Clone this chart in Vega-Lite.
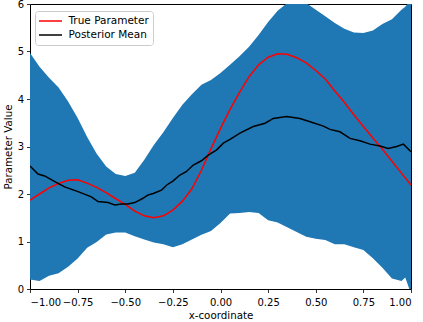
{
  "$schema": "https://vega.github.io/schema/vega-lite/v6.json",
  "width": 381,
  "height": 285,
  "autosize": {"type": "none"},
  "padding": {"left": 30, "top": 4, "right": 12, "bottom": 33},
  "background": "white",
  "config": {
    "view": {"stroke": "#000000", "strokeWidth": 1},
    "font": "DejaVu Sans",
    "axis": {
      "grid": false,
      "domain": false,
      "labelFont": "DejaVu Sans",
      "labelFontSize": 10,
      "labelColor": "#000000",
      "tickColor": "#000000",
      "tickSize": 3.5,
      "tickWidth": 0.8,
      "labelPadding": 3,
      "titleFont": "DejaVu Sans",
      "titleFontSize": 10.3,
      "titleFontWeight": "normal",
      "titleColor": "#000000"
    },
    "legend": {
      "labelFont": "DejaVu Sans",
      "labelFontSize": 10.5,
      "labelColor": "#000000"
    }
  },
  "datasets": {
    "band": [
      {"x": -1.00, "lower": 0.20, "upper": 4.97},
      {"x": -0.95, "lower": 0.17, "upper": 4.68},
      {"x": -0.90, "lower": 0.28, "upper": 4.45},
      {"x": -0.85, "lower": 0.33, "upper": 4.24},
      {"x": -0.80, "lower": 0.47, "upper": 3.95},
      {"x": -0.75, "lower": 0.64, "upper": 3.60},
      {"x": -0.70, "lower": 0.87, "upper": 3.20},
      {"x": -0.65, "lower": 0.99, "upper": 2.85},
      {"x": -0.60, "lower": 1.15, "upper": 2.58},
      {"x": -0.55, "lower": 1.19, "upper": 2.42},
      {"x": -0.50, "lower": 1.19, "upper": 2.38},
      {"x": -0.45, "lower": 1.11, "upper": 2.45},
      {"x": -0.40, "lower": 1.04, "upper": 2.72},
      {"x": -0.35, "lower": 0.98, "upper": 3.03},
      {"x": -0.30, "lower": 0.94, "upper": 3.30},
      {"x": -0.25, "lower": 0.88, "upper": 3.60},
      {"x": -0.20, "lower": 0.94, "upper": 3.88},
      {"x": -0.15, "lower": 1.04, "upper": 4.10},
      {"x": -0.10, "lower": 1.14, "upper": 4.30},
      {"x": -0.05, "lower": 1.22, "upper": 4.40},
      {"x": 0.00, "lower": 1.39, "upper": 4.55},
      {"x": 0.05, "lower": 1.59, "upper": 4.72},
      {"x": 0.10, "lower": 1.60, "upper": 4.90},
      {"x": 0.15, "lower": 1.62, "upper": 5.10},
      {"x": 0.20, "lower": 1.60, "upper": 5.35},
      {"x": 0.25, "lower": 1.45, "upper": 5.62},
      {"x": 0.30, "lower": 1.40, "upper": 5.86},
      {"x": 0.35, "lower": 1.30, "upper": 6.02},
      {"x": 0.40, "lower": 1.20, "upper": 6.10},
      {"x": 0.45, "lower": 1.10, "upper": 6.02},
      {"x": 0.50, "lower": 1.06, "upper": 5.88},
      {"x": 0.55, "lower": 1.03, "upper": 5.74},
      {"x": 0.60, "lower": 0.94, "upper": 5.60},
      {"x": 0.65, "lower": 0.94, "upper": 5.48},
      {"x": 0.70, "lower": 0.88, "upper": 5.40},
      {"x": 0.75, "lower": 0.82, "upper": 5.39},
      {"x": 0.80, "lower": 0.65, "upper": 5.44},
      {"x": 0.85, "lower": 0.45, "upper": 5.58},
      {"x": 0.90, "lower": 0.22, "upper": 5.68},
      {"x": 0.95, "lower": 0.17, "upper": 5.88},
      {"x": 0.97, "lower": 0.24, "upper": 5.94},
      {"x": 1.00, "lower": -0.10, "upper": 6.10}
    ],
    "lines": [
      {"x": -1.00, "series": "True Parameter", "y": 1.87},
      {"x": -0.95, "series": "True Parameter", "y": 2.00},
      {"x": -0.90, "series": "True Parameter", "y": 2.13},
      {"x": -0.85, "series": "True Parameter", "y": 2.22},
      {"x": -0.80, "series": "True Parameter", "y": 2.29},
      {"x": -0.75, "series": "True Parameter", "y": 2.30},
      {"x": -0.70, "series": "True Parameter", "y": 2.23},
      {"x": -0.65, "series": "True Parameter", "y": 2.14},
      {"x": -0.60, "series": "True Parameter", "y": 2.03},
      {"x": -0.55, "series": "True Parameter", "y": 1.90},
      {"x": -0.50, "series": "True Parameter", "y": 1.78},
      {"x": -0.45, "series": "True Parameter", "y": 1.64},
      {"x": -0.40, "series": "True Parameter", "y": 1.54},
      {"x": -0.35, "series": "True Parameter", "y": 1.50},
      {"x": -0.30, "series": "True Parameter", "y": 1.54},
      {"x": -0.25, "series": "True Parameter", "y": 1.66},
      {"x": -0.20, "series": "True Parameter", "y": 1.85},
      {"x": -0.15, "series": "True Parameter", "y": 2.11},
      {"x": -0.10, "series": "True Parameter", "y": 2.50},
      {"x": -0.05, "series": "True Parameter", "y": 2.95},
      {"x": 0.00, "series": "True Parameter", "y": 3.38},
      {"x": 0.05, "series": "True Parameter", "y": 3.78},
      {"x": 0.10, "series": "True Parameter", "y": 4.14},
      {"x": 0.15, "series": "True Parameter", "y": 4.47},
      {"x": 0.20, "series": "True Parameter", "y": 4.72},
      {"x": 0.25, "series": "True Parameter", "y": 4.88},
      {"x": 0.30, "series": "True Parameter", "y": 4.95},
      {"x": 0.35, "series": "True Parameter", "y": 4.94},
      {"x": 0.40, "series": "True Parameter", "y": 4.87},
      {"x": 0.45, "series": "True Parameter", "y": 4.76},
      {"x": 0.50, "series": "True Parameter", "y": 4.60},
      {"x": 0.55, "series": "True Parameter", "y": 4.42},
      {"x": 0.60, "series": "True Parameter", "y": 4.17},
      {"x": 0.65, "series": "True Parameter", "y": 3.93},
      {"x": 0.70, "series": "True Parameter", "y": 3.67},
      {"x": 0.75, "series": "True Parameter", "y": 3.42},
      {"x": 0.80, "series": "True Parameter", "y": 3.18},
      {"x": 0.85, "series": "True Parameter", "y": 2.94},
      {"x": 0.90, "series": "True Parameter", "y": 2.69},
      {"x": 0.95, "series": "True Parameter", "y": 2.44},
      {"x": 1.00, "series": "True Parameter", "y": 2.19},
      {"x": -1.00, "series": "Posterior Mean", "y": 2.59},
      {"x": -0.958, "series": "Posterior Mean", "y": 2.42},
      {"x": -0.923, "series": "Posterior Mean", "y": 2.38},
      {"x": -0.87, "series": "Posterior Mean", "y": 2.26},
      {"x": -0.818, "series": "Posterior Mean", "y": 2.15},
      {"x": -0.748, "series": "Posterior Mean", "y": 2.05},
      {"x": -0.678, "series": "Posterior Mean", "y": 1.94},
      {"x": -0.643, "series": "Posterior Mean", "y": 1.84},
      {"x": -0.59, "series": "Posterior Mean", "y": 1.82},
      {"x": -0.555, "series": "Posterior Mean", "y": 1.77},
      {"x": -0.52, "series": "Posterior Mean", "y": 1.79},
      {"x": -0.486, "series": "Posterior Mean", "y": 1.79},
      {"x": -0.45, "series": "Posterior Mean", "y": 1.82},
      {"x": -0.407, "series": "Posterior Mean", "y": 1.91},
      {"x": -0.38, "series": "Posterior Mean", "y": 1.98},
      {"x": -0.353, "series": "Posterior Mean", "y": 2.01},
      {"x": -0.31, "series": "Posterior Mean", "y": 2.08},
      {"x": -0.282, "series": "Posterior Mean", "y": 2.19},
      {"x": -0.25, "series": "Posterior Mean", "y": 2.27},
      {"x": -0.213, "series": "Posterior Mean", "y": 2.40},
      {"x": -0.18, "series": "Posterior Mean", "y": 2.47},
      {"x": -0.143, "series": "Posterior Mean", "y": 2.61},
      {"x": -0.10, "series": "Posterior Mean", "y": 2.70},
      {"x": -0.064, "series": "Posterior Mean", "y": 2.82},
      {"x": -0.02, "series": "Posterior Mean", "y": 2.93},
      {"x": 0.015, "series": "Posterior Mean", "y": 3.07},
      {"x": 0.05, "series": "Posterior Mean", "y": 3.15},
      {"x": 0.102, "series": "Posterior Mean", "y": 3.28},
      {"x": 0.172, "series": "Posterior Mean", "y": 3.42},
      {"x": 0.234, "series": "Posterior Mean", "y": 3.49},
      {"x": 0.277, "series": "Posterior Mean", "y": 3.59},
      {"x": 0.347, "series": "Posterior Mean", "y": 3.63},
      {"x": 0.417, "series": "Posterior Mean", "y": 3.59},
      {"x": 0.47, "series": "Posterior Mean", "y": 3.52},
      {"x": 0.54, "series": "Posterior Mean", "y": 3.43},
      {"x": 0.575, "series": "Posterior Mean", "y": 3.36},
      {"x": 0.627, "series": "Posterior Mean", "y": 3.31},
      {"x": 0.68, "series": "Posterior Mean", "y": 3.17},
      {"x": 0.732, "series": "Posterior Mean", "y": 3.12},
      {"x": 0.785, "series": "Posterior Mean", "y": 3.05},
      {"x": 0.837, "series": "Posterior Mean", "y": 3.01},
      {"x": 0.88, "series": "Posterior Mean", "y": 2.96},
      {"x": 0.925, "series": "Posterior Mean", "y": 3.00},
      {"x": 0.96, "series": "Posterior Mean", "y": 3.05},
      {"x": 1.00, "series": "Posterior Mean", "y": 2.89}
    ]
  },
  "encoding": {
    "x": {
      "field": "x",
      "type": "quantitative",
      "scale": {"domain": [-1, 1], "nice": false, "zero": false},
      "axis": {
        "title": "x-coordinate",
        "values": [-1, -0.75, -0.5, -0.25, 0, 0.25, 0.5, 0.75, 1],
        "format": ".2f",
        "labelPadding": 5,
        "titlePadding": 3
      }
    }
  },
  "layer": [
    {
      "data": {"name": "band"},
      "mark": {"type": "area", "color": "#1f77b4", "opacity": 1, "clip": true},
      "encoding": {
        "y": {
          "field": "lower",
          "type": "quantitative",
          "scale": {"domain": [0, 6], "nice": false, "zero": false},
          "axis": {
            "title": "Parameter Value",
            "values": [0, 1, 2, 3, 4, 5, 6],
            "titlePadding": 4
          }
        },
        "y2": {"field": "upper"}
      }
    },
    {
      "data": {"name": "lines"},
      "mark": {"type": "line", "strokeWidth": 1.5, "clip": true},
      "encoding": {
        "y": {"field": "y", "type": "quantitative"},
        "color": {
          "field": "series",
          "type": "nominal",
          "sort": ["True Parameter", "Posterior Mean"],
          "scale": {
            "domain": ["True Parameter", "Posterior Mean"],
            "range": ["#ff0000", "#000000"]
          },
          "legend": {
            "title": null,
            "orient": "none",
            "legendX": 5,
            "legendY": 7,
            "symbolType": "M-2.3,0H2.3",
            "symbolSize": 100,
            "symbolStrokeWidth": 1.5,
            "symbolOffset": 5.5,
            "fillColor": "white",
            "strokeColor": "#cccccc",
            "cornerRadius": 3,
            "padding": 4,
            "rowPadding": 2,
            "labelOffset": 12
          }
        }
      }
    }
  ]
}
